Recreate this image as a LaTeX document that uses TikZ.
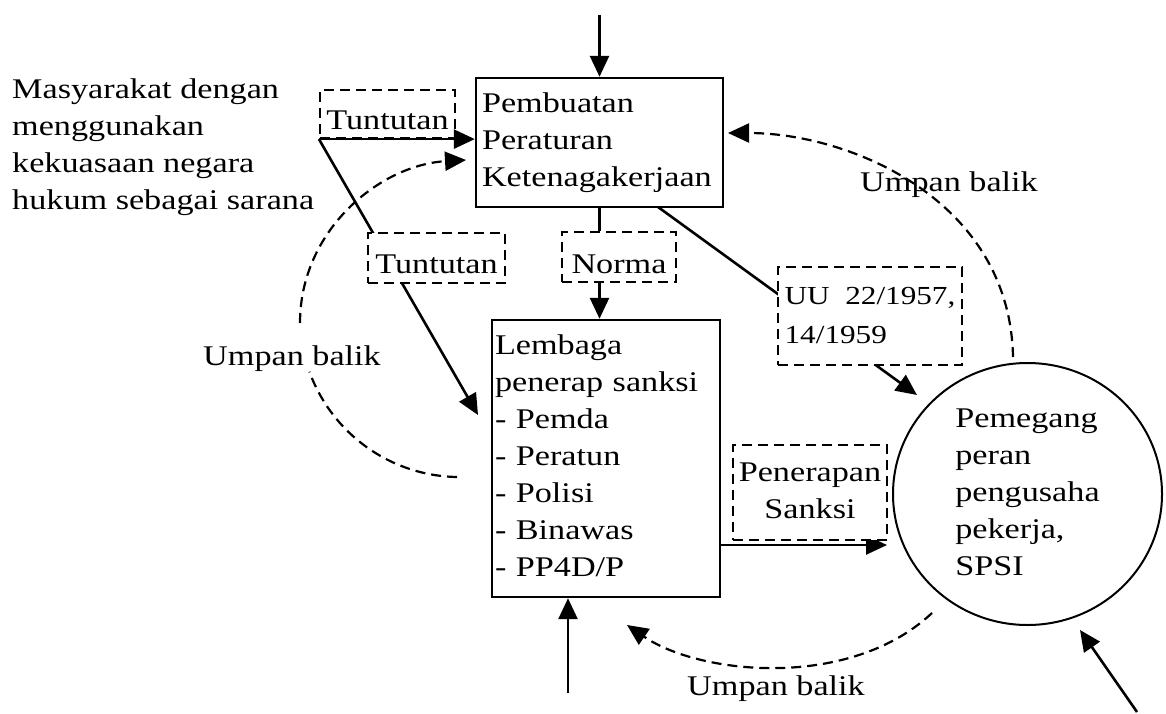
\documentclass[tikz,border=0pt]{standalone}
\usepackage{fontspec}
\setmainfont{Liberation Serif}[FakeStretch=1.2]
\usetikzlibrary{arrows.meta,shapes.geometric}
\pgfdeclarelayer{back}
\pgfdeclarelayer{bg}
\pgfsetlayers{back,bg,main}
\tikzset{
  every node/.style={font=\fontsize{28.5}{37}\selectfont},
  solidbox/.style={draw, line width=2.4pt, fill=white, align=left, inner ysep=0pt},
  dbox/.style={draw, line width=2.2pt, dash pattern=on 10pt off 6pt, inner sep=0pt},
  txtnode/.style={inner sep=0pt},
  conn/.style={line width=2.6pt, -{Triangle[length=21pt,width=19pt]}},
  linkline/.style={line width=2.6pt},
  fbline/.style={line width=2.2pt, dash pattern=on 10pt off 6pt},
  fbarrow/.style={fbline, -{Triangle[length=21pt,width=19pt]}},
}
\begin{document}
\begin{tikzpicture}[x=1pt,y=-1pt]
\useasboundingbox (0,0) rectangle (1166,714);
\begin{pgfonlayer}{back}
\fill[white] (0,0) rectangle (1166,714);
\end{pgfonlayer}

% main boxes
\node[solidbox, minimum width=247pt, minimum height=129pt, text width=235pt, inner xsep=6pt] (pemb) at (599.5,142.5)
  {\strut Pembuatan\\Peraturan\\Ketenagakerjaan\strut};
\node[solidbox, minimum width=228pt, minimum height=277pt, text width=222pt, inner xsep=3pt] (lemb) at (606,458.5)
  {\strut Lembaga\\penerap sanksi\\- Pemda\\- Peratun\\- Polisi\\- Binawas\\- PP4D/P\strut};
\node[draw, ellipse, line width=2pt, fill=white, minimum width=269pt, minimum height=262pt, inner sep=0pt, align=left] (circ) at (1027.5,494)
  {\strut Pemegang\\peran\\pengusaha\\pekerja,\\SPSI\strut};

% left text
\node[txtnode, anchor=north west, align=left] (masy) at (12,72)
  {\strut Masyarakat dengan\\menggunakan\\kekuasaan negara\\hukum sebagai sarana\strut};

% dashed label boxes
\node[dbox, anchor=base, text height=40pt, text depth=8pt, minimum width=135pt] (tut1) at (387.5,130) {Tuntutan};
\node[dbox, fill=white, anchor=base, text height=40pt, text depth=10pt, minimum width=137pt] (tut2) at (436.5,273) {Tuntutan};
\node[dbox, fill=white, anchor=base, text height=41pt, text depth=9pt, minimum width=114pt] (norma) at (619,273) {Norma};
\node[dbox, fill=white, minimum width=184pt, minimum height=98pt, align=left, font=\fontsize{26}{39}\selectfont] (uu) at (870,316)
  {\strut UU~~22/1957,\\14/1959\strut};
\node[dbox, fill=white, minimum width=154pt, minimum height=95pt, align=center] (pen) at (810,492.5)
  {\strut Penerapan\\Sanksi\strut};

% feedback labels
\node[txtnode, anchor=base west] (ub1) at (860,192) {Umpan balik};
\node[txtnode, anchor=base west] (ub2) at (203,365) {Umpan balik};
\node[txtnode, anchor=base west] (ub3) at (687,695) {Umpan balik};

% free ends
\coordinate (topin) at (599.5,15);
\coordinate (botin) at (568,693);
\coordinate (tutT) at (478,415);
\coordinate (uuS) at (658,207);
\coordinate (uuT) at (917,395);
\coordinate (sanT) at (887,545);
\coordinate (brS) at (1137,712);
\coordinate (brT) at (1080,630);
\coordinate (fbR1) at (1013,357);
\coordinate (fbR2) at (728,133);
\coordinate (fbB1) at (932,613);
\coordinate (fbB2) at (627,625);
\coordinate (fbL1) at (457,477);
\coordinate (fbL2) at (300,323);
\coordinate (fbL3) at (466,160);

\begin{pgfonlayer}{bg}
\draw[conn] (topin) -- (pemb.north);
\draw[conn] (tut1.south west) -- (tut1.south west -| pemb.west);
\draw[conn] (tut1.south west) -- (tutT);
\draw[linkline] (pemb.south) -- (norma.north -| pemb.south);
\draw[conn] (norma.south -| pemb.south) -- (lemb.north -| pemb.south);
\draw[conn] (uuS) -- (uuT);
\draw[conn] (sanT -| lemb.east) -- (sanT);
\draw[conn] (botin) -- (botin |- lemb.south);
\draw[conn] (brS) -- (brT);
\draw[fbarrow] (fbR1) .. controls (1010,200) and (850,133) .. (fbR2);
\draw[fbarrow] (fbB1) .. controls (850,690) and (700,675) .. (fbB2);
\draw[fbline] (fbL1) arc[start angle=91, end angle=160, radius=160];
\draw[fbarrow] (fbL2) .. controls (300,230) and (380,165) .. (fbL3);
\end{pgfonlayer}
\end{tikzpicture}
\end{document}
